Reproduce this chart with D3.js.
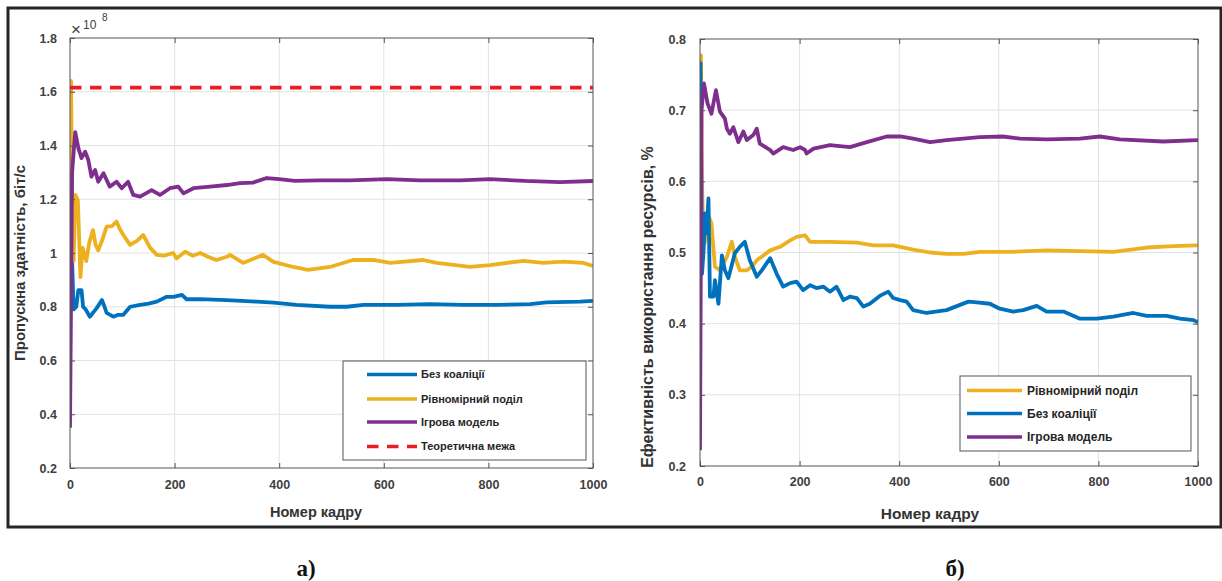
<!DOCTYPE html>
<html>
<head>
<meta charset="utf-8">
<script src="https://cdn.jsdelivr.net/npm/d3@7"></script>
<style>
body { margin: 0; background: #fff; }
svg text { font-family: "Liberation Sans", Arial, sans-serif; }
.tick text { font-size: 12.5px; font-weight: bold; fill: #404040; }
.tick line { stroke: #555; }
.ax_label { font-weight: bold; fill: #333; }
.caption { font-family: "Liberation Serif", "Times New Roman", serif !important; font-size: 23px; font-weight: bold; fill: #111; }
</style>
</head>
<body>
<div id="fig"></div>
<script>
// panel a) - throughput, x1e8 bit/s
var fr_blue_a = [0, 2, 4, 7, 12, 16, 22, 25, 30, 38, 45, 51, 61, 66, 70, 83, 92, 102, 115, 134, 150, 166, 185, 198, 214, 223, 249, 300, 357, 389, 433, 497, 529, 561, 625, 688, 752, 816, 880, 911, 975, 1000];
var val_blue_a = [1.27, 0.80, 0.97, 0.79, 0.80, 0.862, 0.862, 0.80, 0.79, 0.763, 0.78, 0.795, 0.825, 0.80, 0.777, 0.763, 0.77, 0.77, 0.80, 0.807, 0.812, 0.819, 0.837, 0.837, 0.844, 0.828, 0.828, 0.825, 0.819, 0.815, 0.807, 0.80, 0.80, 0.807, 0.807, 0.81, 0.807, 0.807, 0.81, 0.816, 0.819, 0.822];

var fr_yel_a = [0, 2, 4, 7, 10, 15, 20, 24, 31, 37, 44, 49, 54, 62, 70, 80, 89, 95, 102, 115, 128, 140, 153, 166, 180, 197, 204, 220, 235, 249, 265, 280, 300, 306, 331, 369, 389, 427, 455, 497, 541, 580, 612, 675, 701, 765, 803, 867, 905, 943, 981, 1000];
var val_yel_a = [0.97, 1.64, 1.20, 0.97, 1.216, 1.197, 0.91, 1.02, 0.97, 1.04, 1.085, 1.03, 1.01, 1.05, 1.098, 1.10, 1.117, 1.09, 1.067, 1.03, 1.045, 1.067, 1.02, 0.993, 0.99, 1.0, 0.98, 1.005, 0.99, 1.0, 0.985, 0.974, 0.986, 0.993, 0.963, 0.993, 0.967, 0.948, 0.937, 0.948, 0.974, 0.974, 0.963, 0.974, 0.963, 0.948, 0.955, 0.971, 0.963, 0.968, 0.963, 0.952];

var fr_pur_a = [0, 4, 10, 16, 22, 29, 35, 41, 48, 54, 64, 76, 89, 99, 111, 121, 134, 156, 172, 191, 207, 217, 236, 268, 300, 325, 350, 376, 400, 430, 478, 535, 606, 669, 746, 803, 870, 937, 1000];
var val_pur_a = [0.35, 1.30, 1.45, 1.39, 1.353, 1.377, 1.346, 1.284, 1.309, 1.265, 1.297, 1.247, 1.265, 1.241, 1.265, 1.216, 1.21, 1.234, 1.216, 1.241, 1.247, 1.222, 1.241, 1.247, 1.253, 1.26, 1.262, 1.279, 1.275, 1.268, 1.27, 1.27, 1.275, 1.27, 1.27, 1.275, 1.268, 1.264, 1.268];

var limit_a = 1.615;

// panel b) - resource efficiency
var fr_yel_b = [0, 2, 4, 7, 12, 18, 23, 30, 40, 54, 64, 70, 80, 94, 104, 114, 124, 141, 161, 181, 194, 211, 221, 261, 315, 348, 388, 428, 462, 495, 529, 562, 629, 696, 763, 830, 897, 950, 1000];
var val_yel_b = [0.63, 0.777, 0.60, 0.508, 0.52, 0.55, 0.541, 0.48, 0.475, 0.494, 0.515, 0.494, 0.475, 0.475, 0.48, 0.489, 0.494, 0.503, 0.508, 0.517, 0.522, 0.524, 0.515, 0.515, 0.514, 0.51, 0.51, 0.504, 0.50, 0.498, 0.498, 0.501, 0.501, 0.503, 0.502, 0.501, 0.507, 0.509, 0.51];

var fr_blue_b = [0, 1, 4, 7, 10, 13, 17, 20, 27, 30, 37, 44, 50, 57, 70, 80, 90, 100, 114, 124, 141, 154, 167, 181, 194, 207, 221, 234, 248, 261, 274, 288, 301, 315, 328, 341, 361, 378, 388, 402, 415, 428, 455, 495, 539, 556, 582, 602, 629, 649, 676, 696, 730, 763, 797, 830, 870, 897, 937, 964, 991, 1000];
var val_blue_b = [0.63, 0.766, 0.47, 0.50, 0.555, 0.527, 0.576, 0.438, 0.438, 0.461, 0.428, 0.496, 0.475, 0.464, 0.499, 0.508, 0.515, 0.489, 0.466, 0.475, 0.492, 0.47, 0.452, 0.457, 0.459, 0.447, 0.454, 0.45, 0.452, 0.445, 0.452, 0.433, 0.438, 0.436, 0.424, 0.428, 0.439, 0.445, 0.436, 0.433, 0.431, 0.419, 0.415, 0.419, 0.431, 0.43, 0.428, 0.421, 0.417, 0.419, 0.425, 0.417, 0.417, 0.407, 0.407, 0.41, 0.415, 0.411, 0.411, 0.407, 0.405, 0.402];

var fr_pur_b = [0, 3, 8, 15, 23, 32, 40, 50, 54, 60, 67, 77, 87, 94, 107, 114, 120, 141, 147, 167, 187, 201, 211, 214, 228, 261, 301, 335, 375, 402, 428, 462, 495, 562, 608, 643, 696, 763, 803, 843, 930, 1000];
var val_pur_b = [0.222, 0.70, 0.7375, 0.71, 0.695, 0.728, 0.698, 0.688, 0.674, 0.667, 0.676, 0.655, 0.67, 0.658, 0.665, 0.674, 0.653, 0.644, 0.639, 0.648, 0.644, 0.648, 0.644, 0.639, 0.646, 0.651, 0.648, 0.655, 0.663, 0.663, 0.66, 0.655, 0.658, 0.662, 0.663, 0.66, 0.659, 0.66, 0.663, 0.659, 0.656, 0.658];

var x_ticks = [0, 200, 400, 600, 800, 1000];
var y_ticks_a = [0.2, 0.4, 0.6, 0.8, 1.0, 1.2, 1.4, 1.6, 1.8];
var y_ticks_b = [0.2, 0.3, 0.4, 0.5, 0.6, 0.7, 0.8];

var name_blue = "Без коаліції";
var name_yel = "Рівномірний поділ";
var name_pur = "Ігрова модель";
var name_lim = "Теоретична межа";

var c_blue = "#0072BD";
var c_yel = "#EDB120";
var c_pur = "#7E2F8E";
var c_red = "#EC1C24";

var svg_obj = d3.select("#fig").append("svg")
  .attr("width", 1222)
  .attr("height", 581);

function zip(fr, vals) {
  return fr.map(function(f, i) { return {x: f, y: vals[i]}; });
}

function fmt(d) { return String(+d.toFixed(1)); }

function draw_panel(p) {
  var x_ax = d3.scaleLinear().domain([0, 1000]).range([p.left, p.right]);
  var y_ax = d3.scaleLinear().domain(p.y_domain).range([p.bottom, p.top]);
  var g = svg_obj.append("g");

  // grid
  g.selectAll(".vgrid").data(x_ticks.slice(1, -1)).enter()
    .append("line")
      .attr("x1", function(d) { return x_ax(d); }).attr("x2", function(d) { return x_ax(d); })
      .attr("y1", p.top).attr("y2", p.bottom)
      .attr("stroke", "#e2e2e2").attr("stroke-width", 1);
  g.selectAll(".hgrid").data(p.y_ticks.slice(1, -1)).enter()
    .append("line")
      .attr("y1", function(d) { return y_ax(d); }).attr("y2", function(d) { return y_ax(d); })
      .attr("x1", p.left).attr("x2", p.right)
      .attr("stroke", "#e2e2e2").attr("stroke-width", 1);

  // clip
  svg_obj.append("clipPath").attr("id", p.id + "_clip")
    .append("rect")
      .attr("x", p.left).attr("y", p.top)
      .attr("width", p.right - p.left).attr("height", p.bottom - p.top);

  var line = d3.line()
    .x(function(d) { return x_ax(d.x); })
    .y(function(d) { return y_ax(d.y); });

  var lines_g = g.append("g").attr("clip-path", "url(#" + p.id + "_clip)");
  p.series.forEach(function(s) {
    lines_g.append("path")
      .attr("fill", "none")
      .attr("stroke", s.color)
      .attr("stroke-width", 3.8)
      .attr("stroke-linejoin", "round")
      .attr("stroke-dasharray", s.dash ? "11.5,8.5" : null)
      .attr("d", line(s.data));
  });

  // box + axes
  g.append("rect")
    .attr("x", p.left).attr("y", p.top)
    .attr("width", p.right - p.left).attr("height", p.bottom - p.top)
    .attr("fill", "none").attr("stroke", "#555").attr("stroke-width", 1);

  var ab = g.append("g").attr("transform", "translate(0," + p.bottom + ")")
    .call(d3.axisBottom(x_ax).tickValues(x_ticks).tickSizeInner(-5).tickSizeOuter(0).tickPadding(p.x_pad).tickFormat(d3.format("d")));
  var at = g.append("g").attr("transform", "translate(0," + p.top + ")")
    .call(d3.axisTop(x_ax).tickValues(x_ticks).tickSizeInner(-5).tickSizeOuter(0).tickFormat(""));
  var al = g.append("g").attr("transform", "translate(" + p.left + ",0)")
    .call(d3.axisLeft(y_ax).tickValues(p.y_ticks).tickSizeInner(-5).tickSizeOuter(0).tickPadding(p.y_pad).tickFormat(fmt));
  var ar = g.append("g").attr("transform", "translate(" + p.right + ",0)")
    .call(d3.axisRight(y_ax).tickValues(p.y_ticks).tickSizeInner(-5).tickSizeOuter(0).tickFormat(""));
  [ab, at, al, ar].forEach(function(a) { a.select(".domain").remove(); });

  // labels
  g.append("text").attr("class", "ax_label")
    .attr("text-anchor", "middle")
    .attr("font-size", p.xlab_fs + "px")
    .attr("x", p.xlab_x).attr("y", p.xlab_y)
    .text("Номер кадру");
  g.append("text").attr("class", "ax_label")
    .attr("text-anchor", "middle")
    .attr("font-size", p.ylab_fs + "px")
    .attr("transform", "translate(" + p.ylab_x + "," + p.ylab_y + ") rotate(-90)")
    .text(p.ylab);

  // legend
  var lg = g.append("g");
  lg.append("rect")
    .attr("x", p.leg.x).attr("y", p.leg.y)
    .attr("width", p.leg.w).attr("height", p.leg.h)
    .attr("fill", "#fff").attr("stroke", "#555").attr("stroke-width", 1);
  p.leg.items.forEach(function(it, i) {
    var yy = p.leg.rows[i];
    lg.append("line")
      .attr("x1", p.leg.lx0).attr("x2", p.leg.lx1)
      .attr("y1", yy).attr("y2", yy)
      .attr("stroke", it.color).attr("stroke-width", 3.5)
      .attr("stroke-dasharray", it.dash ? "11.5,8.5" : null);
    lg.append("text")
      .attr("x", p.leg.tx).attr("y", yy + p.leg.fs * 0.36)
      .attr("font-size", p.leg.fs + "px").attr("font-weight", "bold")
      .attr("fill", "#262626")
      .text(it.name);
  });
}

// outer frame
svg_obj.append("rect")
  .attr("x", 8).attr("y", 8).attr("width", 1213).attr("height", 519)
  .attr("fill", "none").attr("stroke", "#262626").attr("stroke-width", 3);

var s_blue_a = {color: c_blue, data: zip(fr_blue_a, val_blue_a), name: name_blue};
var s_yel_a = {color: c_yel, data: zip(fr_yel_a, val_yel_a), name: name_yel};
var s_pur_a = {color: c_pur, data: zip(fr_pur_a, val_pur_a), name: name_pur};
var s_lim_a = {color: c_red, dash: true, data: zip([0, 1000], [limit_a, limit_a]), name: name_lim};

draw_panel({
  id: "pa", left: 70, right: 593, top: 38, bottom: 468,
  y_domain: [0.2, 1.8], y_ticks: y_ticks_a, x_pad: 12, y_pad: 13,
  series: [s_blue_a, s_yel_a, s_pur_a, s_lim_a],
  xlab_x: 316, xlab_y: 517, xlab_fs: 14.5,
  ylab: "Пропускна здатність, біт/с", ylab_x: 25, ylab_y: 263, ylab_fs: 15,
  leg: {x: 343, y: 361, w: 243, h: 99, lx0: 367, lx1: 417, tx: 421, fs: 11,
        rows: [374.5, 399, 422, 446.5], items: [s_blue_a, s_yel_a, s_pur_a, s_lim_a]}
});

var s_yel_b = {color: c_yel, data: zip(fr_yel_b, val_yel_b), name: name_yel};
var s_blue_b = {color: c_blue, data: zip(fr_blue_b, val_blue_b), name: name_blue};
var s_pur_b = {color: c_pur, data: zip(fr_pur_b, val_pur_b), name: name_pur};

draw_panel({
  id: "pb", left: 700, right: 1198, top: 39, bottom: 466,
  y_domain: [0.2, 0.8], y_ticks: y_ticks_b, x_pad: 11, y_pad: 14,
  series: [s_yel_b, s_blue_b, s_pur_b],
  xlab_x: 930, xlab_y: 519, xlab_fs: 15.5,
  ylab: "Ефективність використання ресурсів, %", ylab_x: 653, ylab_y: 307, ylab_fs: 16,
  leg: {x: 960, y: 376, w: 231, h: 75, lx0: 967, lx1: 1022, tx: 1027, fs: 12,
        rows: [390.5, 413.5, 437], items: [s_yel_b, s_blue_b, s_pur_b]}
});

// x10^8 multiplier
svg_obj.append("text").attr("x", 71).attr("y", 35).attr("font-size", "17px").attr("fill", "#404040").text("×");
svg_obj.append("text").attr("x", 83).attr("y", 28.5).attr("font-size", "12px").attr("fill", "#404040").text("10");
svg_obj.append("text").attr("x", 102).attr("y", 21).attr("font-size", "10px").attr("fill", "#404040").text("8");

// captions
svg_obj.append("text").attr("class", "caption").attr("text-anchor", "middle")
  .attr("x", 306).attr("y", 576).text("а)");
svg_obj.append("text").attr("class", "caption").attr("text-anchor", "middle")
  .attr("x", 955).attr("y", 576).text("б)");
</script>
</body>
</html>
